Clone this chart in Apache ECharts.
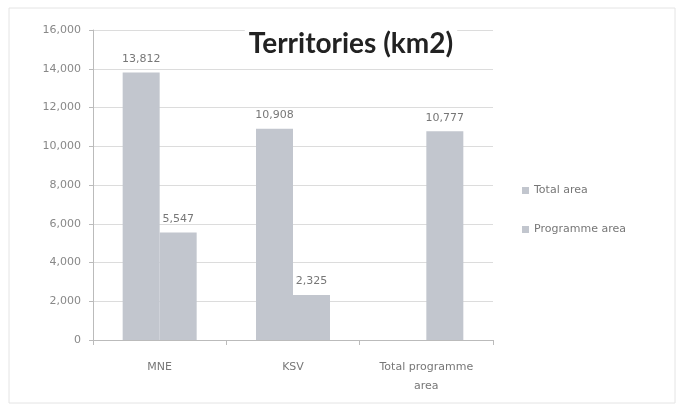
<!doctype html>
<html>
<head>
<meta charset="UTF-8">
<title>Territories</title>
<script src="https://cdn.jsdelivr.net/npm/echarts@6/dist/echarts.min.js"></script>
<style>
  html, body { margin: 0; padding: 0; background: #fff; }
  #main { width: 677px; height: 405px; }
</style>
</head>
<body>
<div id="main"></div>
<script>
  // data
  var categories = ['MNE', 'KSV', 'Total programme\narea'];
  var totalArea = [13812, 10908, null];
  var programmeArea = [5547, 2325, 10777];
  var seriesNames = ['Total area', 'Programme area'];

  var chart = echarts.init(document.getElementById('main'));
  var barColor = '#c2c6ce';
  var fmt = function (p) { return p.value == null ? '' : p.value.toLocaleString('en-US'); };

  var labelStyle = {
    show: true,
    position: 'top',
    distance: 8,
    color: '#777',
    fontSize: 11,
    fontFamily: 'DejaVu Sans',
    formatter: fmt
  };

  chart.setOption({
    animation: false,
    title: {
      text: 'Territories (km2)',
      left: 347,
      top: 28,
      textAlign: 'center',
      backgroundColor: '#fff',
      padding: [2, 4],
      textStyle: { fontSize: 28, fontWeight: 'bold', color: '#222', fontFamily: 'Lato' }
    },
    legend: {
      orient: 'vertical',
      left: 517,
      top: 180,
      itemGap: 28,
      itemWidth: 7,
      itemHeight: 7,
      icon: 'rect',
      textStyle: { color: '#777', fontSize: 11, fontFamily: 'DejaVu Sans' },
      data: seriesNames
    },
    grid: { left: 93, right: 184, top: 30, bottom: 65 },
    xAxis: {
      type: 'category',
      data: categories,
      axisLine: { lineStyle: { color: '#bbb' } },
      axisTick: { show: true, alignWithLabel: false, lineStyle: { color: '#bbb' } },
      axisLabel: { color: '#777', fontSize: 11, fontFamily: 'DejaVu Sans', margin: 18, lineHeight: 19 }
    },
    yAxis: {
      type: 'value',
      min: 0,
      max: 16000,
      interval: 2000,
      axisLine: { show: true, lineStyle: { color: '#bbb' } },
      axisTick: { show: true, length: 4, lineStyle: { color: '#bbb' } },
      splitLine: { lineStyle: { color: '#dcdcdc' } },
      axisLabel: {
        color: '#888', fontSize: 11, fontFamily: 'DejaVu Sans', margin: 12,
        formatter: function (v) { return v.toLocaleString('en-US'); }
      }
    },
    series: [
      {
        name: seriesNames[0],
        type: 'bar',
        data: totalArea,
        barWidth: 37,
        barGap: '0%',
        itemStyle: { color: barColor },
        label: labelStyle
      },
      {
        name: seriesNames[1],
        type: 'bar',
        data: programmeArea,
        barWidth: 37,
        barGap: '0%',
        itemStyle: { color: barColor },
        label: labelStyle
      }
    ],
    graphic: [{
      type: 'rect',
      shape: { x: 9, y: 8, width: 666, height: 395 },
      style: { fill: 'none', stroke: '#e4e4e4', lineWidth: 1 },
      silent: true
    }]
  });
</script>
</body>
</html>
